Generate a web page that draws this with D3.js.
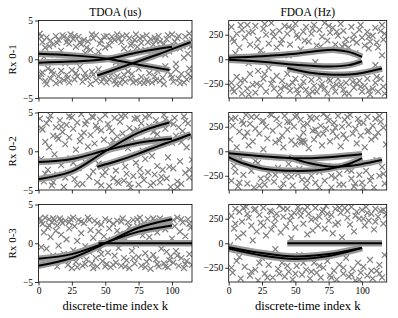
<!DOCTYPE html>
<html>
<head>
<meta charset="utf-8">
<script src="https://cdn.jsdelivr.net/npm/d3@7"></script>
<style>
  body { margin: 0; background: #fff; }
  svg { display: block; }
  text { font-family: "Liberation Serif", "Times New Roman", "DejaVu Serif", serif; fill: #000; }
</style>
</head>
<body>
<div id="chart"></div>
<script>
// ---- data ----
var colTitles = ["TDOA (us)", "FDOA (Hz)"];
var rowLabels = ["Rx 0-1", "Rx 0-2", "Rx 0-3"];
var kTicks = [0, 25, 50, 75, 100];
var tdoaTicks = [-5, 0, 5];
var fdoaTicks = [-250, 0, 250];

// measurements, flat [k, value, k, value, ...]
var tdoa01Pts = [1,3.3, 3,2.2, 5,1.5, 6,2.8, 9,2.4, 11,1.9, 13,3.0, 15,2.5, 17,1.1, 19,2.9, 21,2.2, 23,2.0, 24,3.2, 26,2.6, 28,1.6, 30,2.9, 32,1.9, 34,2.5, 37,2.3, 39,1.2, 41,2.7, 43,3.1, 45,1.0, 47,2.4, 49,2.9, 51,3.0, 53,1.8, 55,2.9, 57,2.5, 59,3.2, 62,2.2, 64,1.4, 66,3.1, 68,2.7, 70,2.0, 72,2.5, 74,1.6, 76,2.7, 78,2.9, 80,1.2, 82,2.2, 84,2.6, 86,1.9, 88,2.4, 90,3.0, 92,1.5, 94,2.0, 96,2.6, 98,1.0, 100,3.2, 102,2.3, 104,2.7, 106,1.4, 108,1.7, 110,2.9, 112,0.7, 113,3.3, 115,2.5,
  4,0.3, 12,0.6, 20,-0.5, 35,0.8, 44,0.4, 58,-0.4, 67,0.9, 85,0.4, 95,0.6, 103,-0.6, 109,0.2,
  1,-2.4, 3,-1.7, 5,-2.8, 7,-1.2, 9,-2.5, 11,-1.9, 13,-3.1, 15,-2.2, 17,-1.5, 19,-2.7, 21,-2.0, 23,-3.0, 25,-1.4, 27,-2.6, 29,-2.2, 31,-1.0, 33,-2.9, 35,-1.8, 37,-2.4, 39,-3.2, 41,-2.0, 43,-2.7, 45,-1.3, 47,-2.9, 49,-2.4, 51,-3.0, 53,-2.6, 55,-1.9, 57,-2.8, 59,-2.2, 61,-3.1, 63,-2.6, 65,-2.9, 67,-1.6, 69,-2.5, 71,-3.0, 73,-2.8, 75,-1.2, 77,-2.3, 79,-3.1, 81,-2.6, 83,-1.8, 85,-3.0, 87,-2.2, 89,-1.5, 91,-2.8, 93,-2.4, 95,-0.9, 97,-1.6, 99,-2.0, 101,-2.9, 103,-1.3, 105,-2.5, 107,-1.9, 109,-3.0, 111,-2.6, 113,-1.2, 115,-2.3,
  2,2.9, 8,1.7, 14,2.1, 18,3.1, 22,2.6, 27,3.0, 31,2.2, 36,1.5, 40,3.2, 46,2.0, 50,1.5, 54,2.4, 60,2.7, 63,3.0, 69,1.8, 73,3.2, 77,2.1, 81,3.1, 87,2.8, 91,2.3, 97,3.1, 101,1.8, 105,3.0, 111,2.1, 114,1.6,
  2,-1.9, 6,-3.2, 10,-1.5, 16,-2.9, 22,-2.4, 28,-1.8, 34,-2.3, 40,-1.6, 46,-2.2, 52,-1.8, 58,-3.2, 64,-2.0, 70,-1.9, 76,-3.0, 82,-2.9, 88,-2.7, 94,-3.2, 100,-2.4, 106,-3.1, 112,-1.9];

var fdoa01Pts = [2,330, 4,180, 6,260, 8,120, 10,300, 12,220, 14,350, 16,150, 18,280, 20,340, 22,200, 24,90, 26,310, 28,250, 30,160, 32,370, 34,230, 36,120, 38,290, 40,200, 42,340, 44,260, 46,150, 48,310, 50,360, 52,220, 54,100, 56,280, 58,330, 60,180, 62,260, 64,350, 66,140, 68,300, 70,230, 72,370, 74,190, 76,270, 78,320, 80,150, 82,240, 84,360, 86,290, 88,200, 90,120, 92,330, 94,250, 96,170, 98,300, 100,220, 102,140, 104,280, 106,180, 108,240, 110,320, 112,120, 114,290, 116,200, 117,260,
  5,60, 15,-40, 25,50, 45,40, 65,-30, 85,130, 95,60, 105,110, 115,40, 110,-60,
  2,-240, 4,-330, 6,-180, 8,-280, 10,-350, 12,-210, 14,-300, 16,-150, 18,-260, 20,-340, 22,-120, 24,-270, 26,-200, 28,-330, 30,-90, 32,-250, 34,-300, 36,-170, 38,-360, 40,-220, 42,-280, 44,-150, 46,-320, 48,-240, 50,-200, 52,-350, 54,-280, 56,-230, 58,-310, 60,-360, 62,-210, 64,-270, 66,-330, 68,-190, 70,-250, 72,-300, 74,-350, 76,-220, 78,-280, 80,-330, 82,-200, 84,-260, 86,-310, 88,-240, 90,-350, 92,-180, 94,-290, 96,-250, 98,-220, 100,-330, 102,-270, 104,-200, 106,-360, 108,-300, 110,-240, 112,-330, 114,-200, 116,-280,
  3,210, 9,350, 15,270, 21,130, 27,360, 33,280, 39,160, 45,330, 51,250, 57,190, 63,310, 69,130, 75,340, 81,280, 87,150, 93,200, 99,350, 105,230, 111,170, 115,350,
  3,-300, 9,-220, 15,-360, 21,-250, 27,-150, 33,-210, 39,-300, 45,-270, 51,-310, 57,-160, 63,-330, 69,-280, 75,-200, 81,-260, 87,-350, 93,-230, 99,-280, 105,-320, 111,-180, 117,-350];

var tdoa02Pts = [1,4.2, 2,-1.0, 3,2.8, 4,-3.9, 5,1.2, 6,3.6, 7,-2.4, 8,0.5, 9,4.6, 10,-4.4, 11,2.0, 12,-0.4, 13,3.1, 14,-3.0, 15,1.6, 16,4.0, 17,-1.8, 18,2.5, 19,-4.6, 20,0.9, 21,3.4, 22,-2.8, 23,1.8, 24,-0.9, 25,4.4, 26,2.9, 27,-3.6, 28,0.2, 29,3.7, 30,-2.2, 31,1.3, 32,4.8, 33,-4.2, 34,2.4, 35,-1.4, 36,3.9, 37,0.6, 38,-3.3, 39,2.1, 40,4.5, 41,-2.6, 42,1.0, 43,3.3, 44,-4.0, 45,-1.6, 46,4.1, 47,2.7, 48,-3.1, 49,1.5, 50,4.7, 51,-2.0, 52,3.5, 53,-4.5, 54,0.8, 55,2.6, 56,-3.5, 57,4.3, 58,-2.5, 59,1.9, 60,-4.1, 61,3.8, 62,-1.2, 63,2.3, 64,-3.8, 65,4.6, 66,-2.9, 67,0.4, 68,3.0, 69,-4.7, 70,1.7, 71,-3.2, 72,4.2, 73,-1.5, 74,2.8, 75,-4.3, 76,-2.3, 77,3.6, 78,0.1, 79,-3.7, 80,4.4, 81,1.4, 82,-2.7, 83,3.2, 84,-4.4, 85,-0.6, 86,2.5, 87,-3.0, 88,4.0, 89,-1.9, 90,3.4, 91,-4.0, 92,0.9, 93,-2.4, 94,4.7, 95,2.9, 96,-3.5, 97,-0.8, 98,3.8, 99,-4.6, 100,1.1, 101,-2.2, 102,4.3, 103,2.0, 104,-3.9, 105,3.1, 106,-1.3, 107,-4.2, 108,2.6, 109,4.5, 110,-2.8, 111,0.5, 112,3.6, 113,-3.4, 114,1.8, 115,-1.1,
  2,3.0, 5,-2.9, 8,4.1, 11,-4.0, 14,1.9, 17,3.2, 20,-3.4, 23,4.5, 26,-1.5, 29,-4.3, 32,2.0, 35,3.5, 38,-0.5, 41,4.4, 44,2.9, 47,-4.4, 50,-2.7, 53,3.0, 56,1.4, 59,-3.9, 62,4.5, 65,-2.0, 68,-4.2, 71,2.6, 74,4.3, 77,-3.1, 80,-1.0, 83,4.6, 86,-4.1, 89,2.2, 92,-3.3, 95,4.1, 98,-2.0, 101,3.5, 104,-4.6, 107,1.2, 110,3.9, 113,-2.4];

var fdoa02Pts = [1,120, 2,-300, 3,260, 4,-150, 5,340, 6,40, 7,-360, 8,200, 9,-80, 10,310, 11,-240, 12,150, 13,370, 14,-330, 15,60, 16,280, 17,-200, 18,100, 19,-370, 20,230, 21,350, 22,-120, 23,180, 24,-280, 25,300, 26,20, 27,-340, 28,250, 29,130, 30,-220, 31,380, 32,-60, 33,210, 34,-310, 35,90, 36,330, 37,-170, 38,270, 39,-380, 40,160, 41,40, 42,360, 43,-260, 44,220, 45,-130, 46,300, 47,110, 48,-350, 49,250, 50,70, 51,370, 52,-230, 53,140, 54,320, 55,-290, 56,190, 57,90, 58,-360, 59,280, 60,30, 61,350, 62,-250, 63,210, 64,120, 65,-320, 66,340, 67,170, 68,-210, 69,260, 70,60, 71,380, 72,-300, 73,230, 74,-150, 75,310, 76,100, 77,-370, 78,200, 79,290, 80,-270, 81,150, 82,360, 83,-230, 84,50, 85,250, 86,-340, 87,320, 88,130, 89,-190, 90,270, 91,370, 92,-280, 93,180, 94,-360, 95,230, 96,80, 97,330, 98,-240, 99,160, 100,-320, 101,290, 102,40, 103,-200, 104,350, 105,210, 106,-300, 107,120, 108,260, 109,-370, 110,330, 111,-90, 112,190, 113,-250, 114,300, 115,-160, 116,240, 117,-330, 118,70, 54,100, 55,90, 56,110,
  2,330, 5,-210, 8,-320, 11,280, 14,190, 17,350, 20,-100, 23,-350, 26,310, 29,-280, 32,370, 35,-240, 38,110, 41,-330, 44,300, 47,-260, 50,350, 53,-180, 56,260, 59,-300, 62,330, 65,220, 68,-370, 71,180, 74,350, 77,-250, 80,240, 83,-340, 86,170, 89,350, 92,-200, 95,-330, 98,290, 101,-370, 104,200, 107,-260, 110,150, 113,360, 116,-230];

var tdoa03Pts = [1,3.2, 2,-0.5, 3,2.5, 4,1.4, 5,3.3, 6,-0.7, 7,2.0, 8,3.1, 9,0.8, 10,2.7, 11,-1.6, 12,3.0, 13,1.6, 14,2.3, 15,-0.3, 16,3.2, 17,1.1, 18,2.6, 19,-1.4, 20,2.9, 21,0.5, 22,-2.8, 23,1.9, 24,3.1, 25,-3.2, 26,-0.9, 27,2.2, 28,-2.4, 29,0.3, 30,3.0, 31,-1.7, 32,1.3, 33,-2.9, 34,2.6, 35,-0.4, 36,-2.1, 37,3.3, 38,-1.1, 39,1.7, 40,-2.6, 41,0.7, 42,2.9, 43,-1.9, 44,-3.0, 45,1.5, 46,-0.8, 47,2.4, 48,-2.3, 49,0.9, 50,3.1, 51,-2.7, 52,-1.2, 53,1.9, 54,-3.1, 55,0.4, 56,2.5, 57,-1.6, 58,-2.5, 59,2.9, 60,-0.6, 61,1.2, 62,-2.9, 63,3.2, 64,-1.9, 65,0.6, 66,-2.2, 67,2.7, 68,-3.2, 69,1.6, 70,-1.0, 71,3.0, 72,-2.6, 73,-0.2, 74,2.2, 75,-1.8, 76,3.3, 77,-2.9, 78,1.0, 79,2.6, 80,-1.3, 81,-2.4, 82,3.1, 83,0.8, 84,-3.3, 85,2.0, 86,-1.5, 87,2.9, 88,-2.1, 89,1.4, 90,-3.0, 91,3.2, 92,-0.7, 93,2.4, 94,-2.6, 95,1.8, 96,-1.1, 97,-3.1, 98,2.8, 99,-1.7, 100,0.6, 101,-2.5, 102,2.2, 103,-1.0, 104,3.3, 105,-2.9, 106,1.5, 107,-1.9, 108,2.7, 109,-3.2, 110,0.9, 111,-2.3, 112,3.1, 113,-1.4, 114,2.0, 115,-2.8,
  2,2.8, 5,-2.6, 8,2.3, 11,3.2, 14,-3.0, 17,2.9, 20,-2.2, 23,2.7, 26,3.3, 29,-3.1, 32,2.8, 35,-2.7, 38,3.0, 41,-3.2, 44,2.6, 47,-1.4, 50,-3.0, 53,2.9, 56,-2.8, 59,1.6, 62,2.8, 65,-3.0, 68,2.1, 71,-1.9, 74,3.1, 77,2.4, 80,-3.1, 83,-2.0, 86,3.2, 89,-2.7, 92,2.7, 95,-3.0, 98,-2.2, 101,3.0, 104,-1.6, 107,3.1, 110,-2.7, 113,2.5];

var fdoa03Pts = [1,-20, 2,280, 3,-300, 4,150, 5,350, 6,-180, 7,60, 8,320, 9,-360, 10,220, 11,100, 12,-240, 13,370, 14,-90, 15,260, 16,-330, 17,180, 18,30, 19,340, 20,-270, 21,120, 22,-380, 23,290, 24,210, 25,-150, 26,360, 27,-310, 28,80, 29,250, 30,-220, 31,330, 32,140, 33,-350, 34,190, 35,-60, 36,300, 37,-260, 38,380, 39,110, 40,-200, 41,270, 42,-340, 43,170, 44,350, 45,-290, 46,230, 47,50, 48,-370, 49,310, 50,160, 51,-230, 52,370, 53,-120, 54,280, 55,-320, 56,200, 57,340, 58,-270, 59,90, 60,300, 61,-360, 62,240, 63,130, 64,-200, 65,360, 66,-300, 67,180, 68,270, 69,-350, 70,320, 71,-250, 72,150, 73,380, 74,-180, 75,230, 76,-330, 77,290, 78,100, 79,-280, 80,350, 81,-370, 82,210, 83,-220, 84,310, 85,60, 86,-310, 87,360, 88,-150, 89,260, 90,-340, 91,190, 92,370, 93,-260, 94,120, 95,-380, 96,320, 97,-200, 98,250, 99,-300, 100,340, 101,-240, 102,180, 103,370, 104,-330, 105,230, 106,-170, 107,300, 108,-360, 109,140, 110,350, 111,-280, 112,270, 113,-220, 114,330, 115,-350, 116,200, 117,-120, 118,290,
  2,-250, 5,200, 8,-140, 11,360, 14,300, 17,-290, 20,350, 23,-200, 26,180, 29,-350, 32,320, 35,250, 38,-310, 41,350, 44,-230, 47,280, 50,-310, 53,330, 56,-200, 59,370, 62,-290, 65,250, 68,-230, 71,340, 74,300, 77,-350, 80,190, 83,360, 86,-250, 89,330, 92,-320, 95,280, 98,-370, 101,250, 104,310, 107,-280, 110,220, 113,-310, 116,340];

// estimated tracks, each one a list of [k, value]
var tdoa01Tracks = [
  [[0,0.7],[25,0.5],[50,0.1],[75,-0.7],[98,-1.4]],
  [[0,-0.45],[25,-0.3],[50,0.0],[75,0.9],[100,1.6]],
  [[44,-2.1],[60,-1.15],[75,-0.25],[90,0.65],[100,1.3],[114,2.2]]
];
var fdoa01Tracks = [
  [[0,15],[25,30],[50,55],[70,90],[80,95],[90,75],[100,25]],
  [[0,-5],[25,-25],[50,-55],[75,-75],[90,-60],[100,-20]],
  [[44,-90],[60,-135],[75,-155],[90,-155],[100,-140],[115,-95]]
];
var tdoa02Tracks = [
  [[0,-1.4],[25,-1.0],[50,0.1],[75,1.1],[100,1.6]],
  [[0,-3.6],[25,-2.6],[50,0.0],[75,2.4],[98,3.7]],
  [[44,-2.0],[60,-1.2],[75,-0.3],[90,0.7],[100,1.3],[114,2.2]]
];
var fdoa02Tracks = [
  [[0,-20],[25,-50],[50,-72],[75,-60],[100,-30]],
  [[0,-60],[10,-120],[25,-175],[50,-200],[75,-180],[90,-130],[100,-70]],
  [[45,-60],[60,-120],[75,-155],[90,-150],[100,-130],[115,-90]]
];
var tdoa03Tracks = [
  [[0,-2.0],[25,-1.4],[50,0.05],[75,1.5],[100,2.3]],
  [[0,-2.9],[25,-1.9],[50,0.0],[75,2.0],[100,3.1]],
  [[45,0],[115,0]]
];
var fdoa03Tracks = [
  [[0,-40],[25,-100],[50,-135],[75,-110],[100,-45]],
  [[0,-55],[25,-125],[50,-160],[75,-130],[100,-50]],
  [[44,0],[115,0]]
];

// ---- layout ----
var W = 398, H = 318;
var colX = [[38.5, 192], [228.7, 386.7]];
var colKmax = [115, 118.5];
var rowTop = [20.5, 112.5, 204.5], rowH = 77.5;
var serif = "'Liberation Serif', 'Times New Roman', serif";

var panels = [
  [tdoa01Pts, tdoa01Tracks, fdoa01Pts, fdoa01Tracks],
  [tdoa02Pts, tdoa02Tracks, fdoa02Pts, fdoa02Tracks],
  [tdoa03Pts, tdoa03Tracks, fdoa03Pts, fdoa03Tracks]
];

function fmt(d) { return d < 0 ? "\u2212" + Math.abs(d) : String(d); }

var svg = d3.select("#chart").append("svg")
  .attr("width", W).attr("height", H)
  .attr("font-family", serif);

var marker = d3.symbol().type(d3.symbolTimes).size(24);

for (let r = 0; r < 3; r++) {
  for (let c = 0; c < 2; c++) {
    var pts = panels[r][c * 2], tracks = panels[r][c * 2 + 1];
    var x = d3.scaleLinear().domain([0, colKmax[c]]).range(colX[c]);
    var y = d3.scaleLinear()
      .domain(c == 0 ? [-5, 5] : [-395, 395])
      .range([rowTop[r] + rowH, rowTop[r]]);

    var id = "clip" + r + c;
    svg.append("clipPath").attr("id", id).append("rect")
      .attr("x", colX[c][0]).attr("y", rowTop[r])
      .attr("width", colX[c][1] - colX[c][0]).attr("height", rowH);

    var g = svg.append("g").attr("clip-path", "url(#" + id + ")");

    var pairs = [];
    for (let i = 0; i < pts.length; i += 2) pairs.push([pts[i], pts[i + 1]]);

    g.selectAll("path.pt").data(pairs).enter().append("path")
      .attr("class", "pt")
      .attr("d", marker)
      .attr("transform", d => "translate(" + x(d[0]) + "," + y(d[1]) + ")")
      .attr("fill", "none").attr("stroke", "#808080").attr("stroke-width", 1.2);

    var line = d3.line().x(d => x(d[0])).y(d => y(d[1])).curve(d3.curveCatmullRom);

    g.selectAll("path.halo").data(tracks).enter().append("path")
      .attr("class", "halo").attr("d", line)
      .attr("fill", "none").attr("stroke", "#999").attr("stroke-width", 6.5);
    g.selectAll("path.trk").data(tracks).enter().append("path")
      .attr("class", "trk").attr("d", line)
      .attr("fill", "none").attr("stroke", "#000").attr("stroke-width", 2);

    // axes
    var xAxis = d3.axisBottom(x).tickValues(kTicks).tickSize(3.5).tickPadding(2)
      .tickFormat(r == 2 ? fmt : "");
    var yAxis = d3.axisLeft(y).tickValues(c == 0 ? tdoaTicks : fdoaTicks)
      .tickSize(3.5).tickPadding(2).tickFormat(fmt);

    var ax = svg.append("g").attr("transform", "translate(0," + (rowTop[r] + rowH) + ")").call(xAxis);
    var ay = svg.append("g").attr("transform", "translate(" + colX[c][0] + ",0)").call(yAxis);
    [ax, ay].forEach(function (a) {
      a.attr("font-family", serif).attr("font-size", 9.5);
      a.select(".domain").remove();
      a.selectAll("line").attr("stroke-width", 0.8);
    });

    svg.append("rect")
      .attr("x", colX[c][0]).attr("y", rowTop[r])
      .attr("width", colX[c][1] - colX[c][0]).attr("height", rowH)
      .attr("fill", "none").attr("stroke", "#000").attr("stroke-width", 0.8);
  }
}

// titles and labels
svg.selectAll("text.title").data(colTitles).enter().append("text")
  .attr("class", "title")
  .attr("x", (d, i) => (colX[i][0] + colX[i][1]) / 2)
  .attr("y", 15.5)
  .attr("text-anchor", "middle").attr("font-size", 11.5)
  .text(d => d);

svg.selectAll("text.rowlab").data(rowLabels).enter().append("text")
  .attr("class", "rowlab")
  .attr("transform", (d, i) => "translate(16," + (rowTop[i] + rowH / 2) + ") rotate(-90)")
  .attr("text-anchor", "middle").attr("font-size", 11)
  .text(d => d);

svg.selectAll("text.xlab").data(colX).enter().append("text")
  .attr("class", "xlab")
  .attr("x", d => (d[0] + d[1]) / 2)
  .attr("y", 309.5)
  .attr("text-anchor", "middle").attr("font-size", 12.5)
  .text("discrete-time index k");
</script>
</body>
</html>
